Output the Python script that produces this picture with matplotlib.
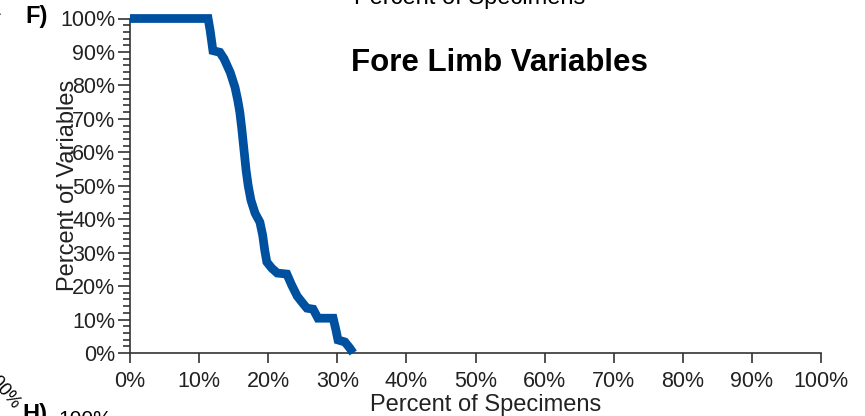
import matplotlib
matplotlib.use("Agg")
import matplotlib.pyplot as plt
from matplotlib.ticker import MultipleLocator, PercentFormatter

# cumulative curve: share of variables still passing vs share of specimens
pct_specimens = [0, 11.3, 11.6, 12.0, 13.0, 13.6, 14.5, 15.2, 15.6, 15.9, 16.2,
                 16.5, 16.8, 17.1, 17.5, 18.1, 18.8, 19.2, 19.5, 19.8, 20.5,
                 21.3, 22.7, 23.4, 24.2, 25.0, 25.6, 26.5, 27.2, 29.4, 29.8,
                 30.1, 31.1, 31.8, 32.3]
pct_variables = [100, 100, 96.4, 90.4, 89.9, 88.0, 83.9, 79.4, 75.5, 71.9, 66.6,
                 60.6, 54.6, 50.1, 45.7, 41.8, 39.1, 35.2, 30.7, 27.2, 25.4,
                 23.9, 23.6, 20.3, 17.0, 14.9, 13.4, 13.1, 10.4, 10.4, 6.9,
                 3.9, 3.3, 1.5, 0]

panel_label = "F)"
title = "Fore Limb Variables"
xlabel = "Percent of Specimens"
ylabel = "Percent of Variables"

plt.rcParams["font.family"] = ["Liberation Sans", "DejaVu Sans"]

W, H = 865, 416
fig = plt.figure(figsize=(W / 100, H / 100), dpi=100)
ax = fig.add_axes([130 / W, 1 - 353 / H, 691 / W, 334.5 / H])

ax.plot(pct_specimens, pct_variables, color="#0050a0", lw=6.3,
        solid_joinstyle="miter", solid_capstyle="butt", clip_on=False, zorder=3)

ax.set_xlim(0, 100)
ax.set_ylim(0, 100)
for side in ("top", "right"):
    ax.spines[side].set_visible(False)
for side in ("left", "bottom"):
    ax.spines[side].set_color("#333333")
    ax.spines[side].set_linewidth(1.2)

ax.xaxis.set_major_locator(MultipleLocator(10))
ax.yaxis.set_major_locator(MultipleLocator(10))
ax.yaxis.set_minor_locator(MultipleLocator(2))
ax.xaxis.set_major_formatter(PercentFormatter(decimals=0))
ax.yaxis.set_major_formatter(PercentFormatter(decimals=0))
ax.tick_params(axis="both", which="major", labelsize=15.5, color="#333333",
               width=1.2, labelcolor="#222222")
ax.tick_params(axis="x", which="major", length=7, pad=6)
ax.tick_params(axis="y", which="major", length=8.5, pad=2)
ax.tick_params(axis="y", which="minor", length=5, color="#333333", width=1.2)

ax.set_xlabel(xlabel, fontsize=17, va="center", color="#222222")
ax.xaxis.set_label_coords((486 - 130) / 691, -0.155)
ax.set_ylabel(ylabel, fontsize=17, va="center", color="#222222")
ax.yaxis.set_label_coords((68 - 130) / 691, 0.5)

fig.text(499 / W, 1 - 63 / H, title, fontsize=22.5, fontweight="bold",
         ha="center", va="center")
fig.text(37 / W, 1 - 17 / H, panel_label, fontsize=17, fontweight="bold",
         ha="center", va="center")

# edges of the neighbouring panels that fall inside the frame
fig.text(470 / W, 1 - 4 / H, xlabel, fontsize=17, ha="center", va="baseline")
fig.text(22 / W, 1 - 421 / H, "H)", fontsize=17, fontweight="bold",
         ha="left", va="baseline")
fig.text(58 / W, 1 - 425 / H, "100%", fontsize=15, ha="left", va="baseline")
fig.text(2 / W, 1 - 390 / H, "100%", fontsize=13, rotation=-50,
         ha="center", va="center")
fig.text(2 / W, 1 - 6 / H, "100%", fontsize=13, rotation=-50,
         ha="right", va="center")

fig.savefig("out.png", dpi=100)
